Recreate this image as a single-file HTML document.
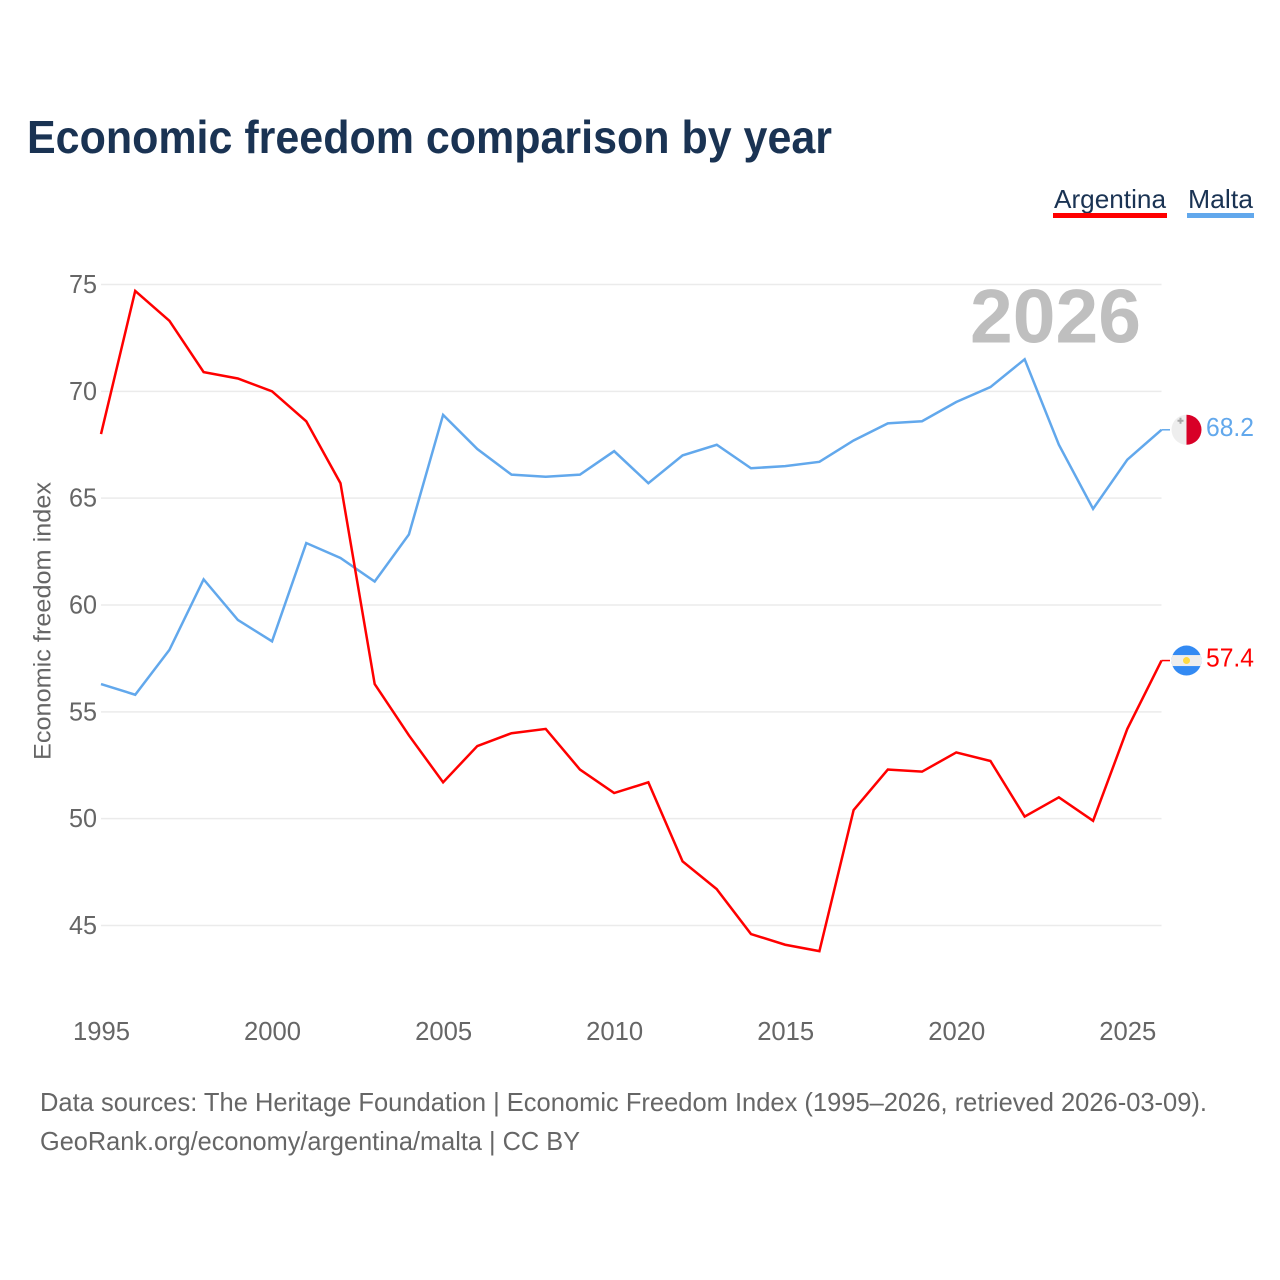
<!DOCTYPE html>
<html lang="en">
<head>
<meta charset="utf-8">
<title>Economic freedom comparison by year</title>
<style>
html,body{margin:0;padding:0;background:#fff;}
svg{display:block;font-family:"Liberation Sans",sans-serif;}
</style>
</head>
<body>
<svg id="chart" xmlns="http://www.w3.org/2000/svg" width="1280" height="1280" viewBox="0 0 1280 1280">
  <rect width="1280" height="1280" fill="#fff"/>
  <text x="27" y="153" font-size="46" font-weight="700" fill="#1a3353" textLength="805" lengthAdjust="spacingAndGlyphs">Economic freedom comparison by year</text>

  <g>
    <text x="1054" y="208" font-size="26" fill="#1a3353" textLength="112" lengthAdjust="spacingAndGlyphs">Argentina</text>
    <rect x="1053" y="213" width="114" height="5" fill="#ff0000"/>
  </g>
  <g>
    <text x="1188" y="208" font-size="26" fill="#1a3353" textLength="65" lengthAdjust="spacingAndGlyphs">Malta</text>
    <rect x="1187" y="213" width="67" height="5" fill="#62a8ec"/>
  </g>

  <g id="grid"></g>
  <g id="yticks"></g>
  <g id="xticks"></g>

  <text transform="translate(50.5,760) rotate(-90)" font-size="24.5" fill="#666" textLength="278" lengthAdjust="spacingAndGlyphs">Economic freedom index</text>

  <text id="year-watermark" x="970" y="342.5" font-size="76" font-weight="700" fill="#bfbfbf" textLength="171" lengthAdjust="spacingAndGlyphs">2026</text>

  <g id="series"></g>
  <g id="ends"></g>

  <defs>
    <clipPath id="clip-mt"><circle cx="0" cy="0" r="15"/></clipPath>
    <clipPath id="clip-ar"><circle cx="0" cy="0" r="15"/></clipPath>
  </defs>

  <text x="40" y="1111" font-size="26" fill="#666" textLength="1167" lengthAdjust="spacingAndGlyphs">Data sources: The Heritage Foundation | Economic Freedom Index (1995–2026, retrieved 2026-03-09).</text>
  <text x="40" y="1150" font-size="26" fill="#666" textLength="540" lengthAdjust="spacingAndGlyphs">GeoRank.org/economy/argentina/malta | CC BY</text>
</svg>
<script>
const years = [1995,1996,1997,1998,1999,2000,2001,2002,2003,2004,2005,2006,2007,2008,2009,2010,2011,2012,2013,2014,2015,2016,2017,2018,2019,2020,2021,2022,2023,2024,2025,2026];
const argentina = [68.0,74.7,73.3,70.9,70.6,70.0,68.6,65.7,56.3,53.9,51.7,53.4,54.0,54.2,52.3,51.2,51.7,48.0,46.7,44.6,44.1,43.8,50.4,52.3,52.2,53.1,52.7,50.1,51.0,49.9,54.2,57.4];
const malta = [56.3,55.8,57.9,61.2,59.3,58.3,62.9,62.2,61.1,63.3,68.9,67.3,66.1,66.0,66.1,67.2,65.7,67.0,67.5,66.4,66.5,66.7,67.7,68.5,68.6,69.5,70.2,71.5,67.5,64.5,66.8,68.2];
const yTickValues = [45,50,55,60,65,70,75];
const xTickValues = [1995,2000,2005,2010,2015,2020,2025];

const NS = 'http://www.w3.org/2000/svg';
const X0 = 101, X1 = 1161.5;
const xScale = function (yr) { return X0 + (yr - 1995) * (X1 - X0) / (2026 - 1995); };
const yScale = function (v) { return 284.5 + (75 - v) * (925.5 - 284.5) / 30; };

function make(tag, parent, attrs, text) {
  const el = document.createElementNS(NS, tag);
  Object.keys(attrs).forEach(function (k) { el.setAttribute(k, attrs[k]); });
  if (text !== undefined) el.textContent = text;
  parent.appendChild(el);
  return el;
}

const grid = document.getElementById('grid');
const yticks = document.getElementById('yticks');
yTickValues.forEach(function (v) {
  const line = make('line', grid, {x1: X0, x2: X1, y1: yScale(v), y2: yScale(v), stroke: '#ebebeb', 'stroke-width': 1.5});
  
  
  const label = make('text', yticks, {x: 97, y: yScale(v) + 8.5, 'text-anchor': 'end', 'font-size': 26, fill: '#666', textLength: 28, lengthAdjust: 'spacingAndGlyphs'}, String(v));
  
  
});

const xticks = document.getElementById('xticks');
xTickValues.forEach(function (yr) {
  const label = make('text', xticks, {x: xScale(yr) + 0.5, y: 1040, 'text-anchor': 'middle', 'font-size': 26, fill: '#666', textLength: 57, lengthAdjust: 'spacingAndGlyphs'}, String(yr));
  
  
});

function linePath(values) {
  return values.map(function (v, i) {
    return (i ? 'L' : 'M') + xScale(years[i]).toFixed(2) + ' ' + yScale(v).toFixed(2);
  }).join(' ');
}

const seriesGroup = document.getElementById('series');
const maltaLine = make('path', seriesGroup, {d: linePath(malta), fill: 'none', stroke: '#62a8ec', 'stroke-width': 2.5, 'stroke-linejoin': 'miter'});


const argentinaLine = make('path', seriesGroup, {d: linePath(argentina), fill: 'none', stroke: '#ff0000', 'stroke-width': 2.5, 'stroke-linejoin': 'miter'});



const ends = document.getElementById('ends');
const FLAG_X = 1186.5;

// Malta end marker
const mtV = malta[malta.length - 1];
const mtY = yScale(mtV);
const mtConn = make('line', ends, {x1: X1, x2: 1170, y1: mtY, y2: mtY, stroke: '#62a8ec', 'stroke-width': 1.5});


const mtFlag = make('g', ends, {transform: 'translate(' + FLAG_X + ',' + mtY + ')', 'clip-path': 'url(#clip-mt)'});


make('rect', mtFlag, {x: -16, y: -16, width: 16, height: 32, fill: '#eeeeee'});
make('rect', mtFlag, {x: 0, y: -16, width: 16, height: 32, fill: '#d80027'});
make('path', mtFlag, {d: 'M-7 -12 h2 v2 h2 v2 h-2 v2 h-2 v-2 h-2 v-2 h2 z', fill: '#a8a8a8'});
const mtLabel = make('text', ends, {x: 1206, y: mtY + 6, 'font-size': 26, fill: '#62a8ec', textLength: 48, lengthAdjust: 'spacingAndGlyphs'}, mtV.toFixed(1));



// Argentina end marker
const arV = argentina[argentina.length - 1];
const arY = yScale(arV);
const arConn = make('line', ends, {x1: X1, x2: 1170, y1: arY, y2: arY, stroke: '#ff0000', 'stroke-width': 1.5});


const arFlag = make('g', ends, {transform: 'translate(' + FLAG_X + ',' + arY + ')', 'clip-path': 'url(#clip-ar)'});


make('rect', arFlag, {x: -16, y: -16, width: 32, height: 32, fill: '#338af3'});
make('rect', arFlag, {x: -16, y: -5.5, width: 32, height: 11, fill: '#eeeeee'});
make('circle', arFlag, {cx: 0, cy: 0, r: 3.5, fill: '#ffda44'});
const arLabel = make('text', ends, {x: 1206, y: arY + 6, 'font-size': 26, fill: '#ff0000', textLength: 48, lengthAdjust: 'spacingAndGlyphs'}, arV.toFixed(1));


</script>
</body>
</html>
